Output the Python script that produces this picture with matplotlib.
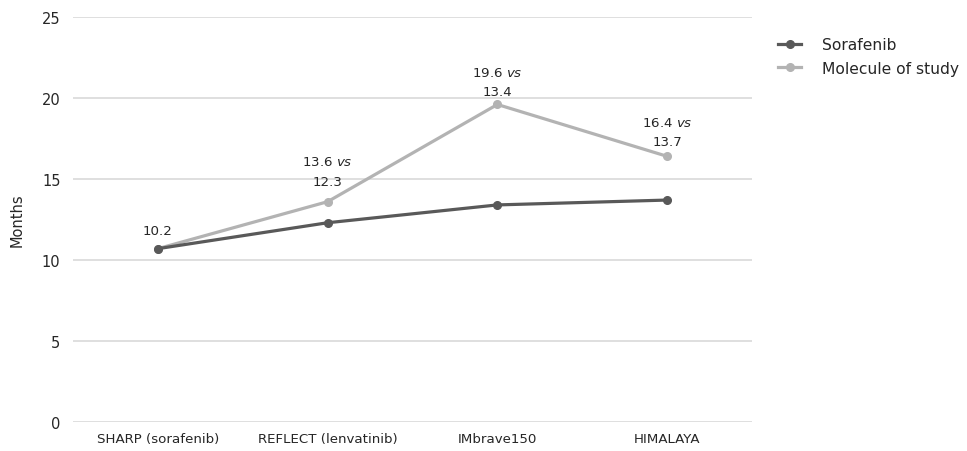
import numpy as np
import matplotlib.pyplot as plt

# OS data
trials = ["SHARP (sorafenib)", "REFLECT (lenvatinib)", "IMbrave150", "HIMALAYA"]
sorafenib = [10.7, 12.3, 13.4, 13.7]
molecule = [10.7, 13.6, 19.6, 16.4]
labels = ["10.2",
          "13.6 $\\mathit{vs}$\n12.3",
          "19.6 $\\mathit{vs}$\n13.4",
          "16.4 $\\mathit{vs}$\n13.7"]

plt.rcParams['font.family'] = ['DejaVu Sans']
plt.rcParams['mathtext.fontset'] = 'dejavusans'
txt = '#262626'

fig = plt.figure(figsize=(9.67, 4.52), dpi=100)
ax = fig.add_axes([73/967, 1 - 423/452, (752-73)/967, (423-18)/452])

x = np.arange(len(trials))
ax.plot(x, sorafenib, color='#595959', lw=2.3, marker='o', ms=5.5, label='Sorafenib', zorder=3)
ax.plot(x, molecule, color='#b3b3b3', lw=2.3, marker='o', ms=5.5, label='Molecule of study', zorder=2)

# label offsets (pixels above the molecule point)
offs = [12, 14, 6, 8]
for i, s in enumerate(labels):
    ax.annotate(s, (x[i], molecule[i]), xytext=(0, offs[i]), textcoords='offset pixels',
                ha='center', va='bottom', fontsize=9.6, color=txt, linespacing=1.65)

ax.set_xlim(-0.5, 3.5)
ax.set_ylim(0, 25)
ax.set_yticks([0, 5, 10, 15, 20, 25])
ax.set_xticks(x)
ax.set_xticklabels(trials)
ax.grid(axis='y', color='#d9d9d9', lw=1.2)
ax.set_axisbelow(True)
for sp in ax.spines.values():
    sp.set_visible(False)
ax.tick_params(length=0, labelsize=10.5, colors=txt)
ax.tick_params(axis='x', labelsize=9.6, pad=7)
ax.tick_params(axis='y', pad=9)
ax.set_ylabel('Months', fontsize=10.5, color=txt, labelpad=12)

fig.legend(loc='upper left', bbox_to_anchor=(764/967, 1 - 24/452), frameon=False,
           fontsize=11.2, handlelength=1.5, handletextpad=1.35, labelspacing=0.55,
           labelcolor=txt)

fig.savefig('out.png', dpi=100)
